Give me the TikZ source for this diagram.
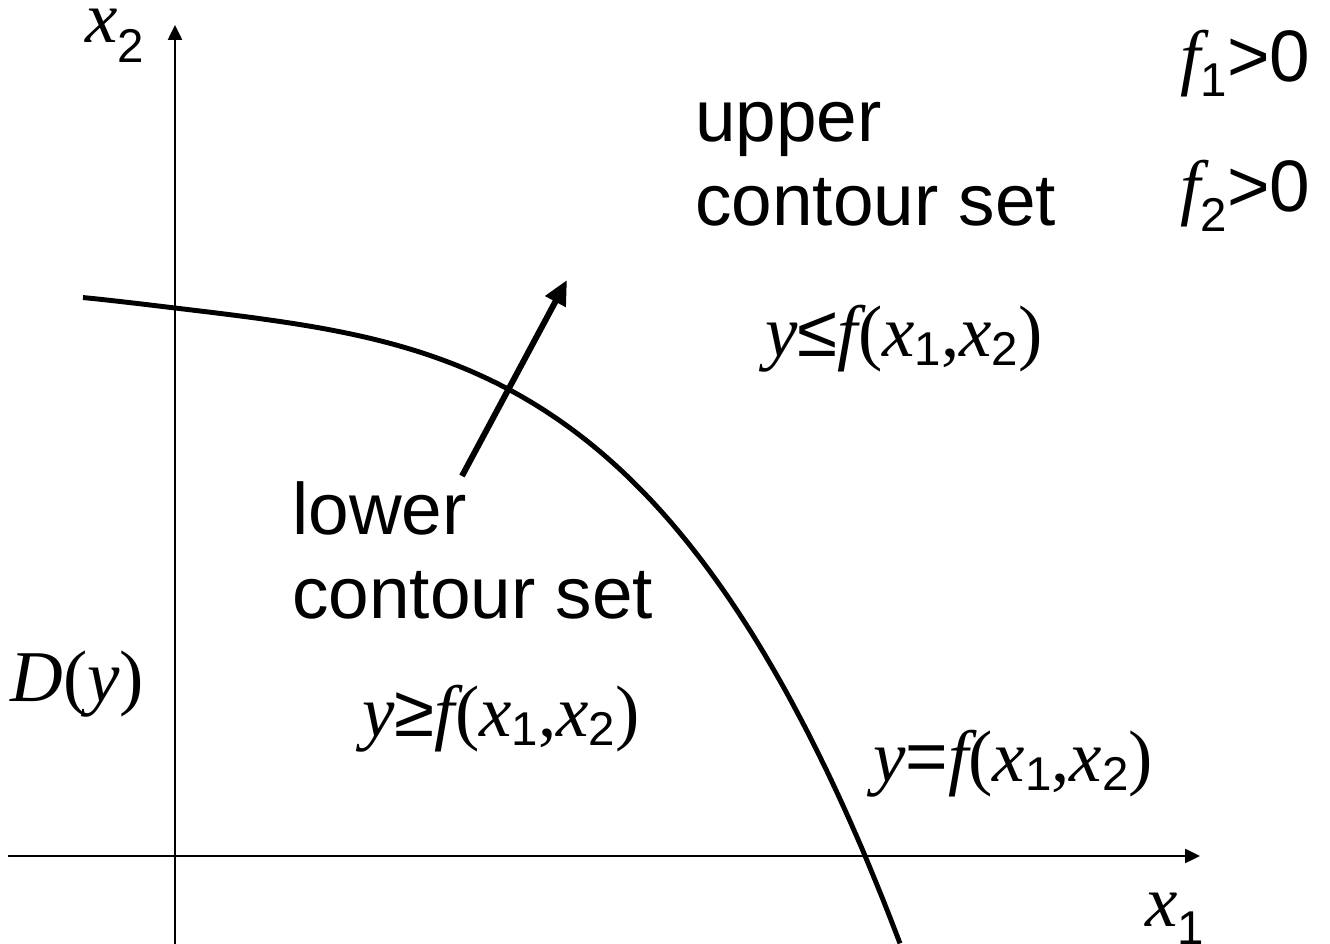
\documentclass[tikz,border=0pt]{standalone}
\usepackage{fontspec}
\setmainfont{Liberation Sans}
\newfontfamily\tmsfont{Liberation Serif}
\usetikzlibrary{arrows.meta}
% variables in Times italic, brackets in Times, indices in Arial
\newcommand{\vi}[1]{{\tmsfont\itshape #1}}
\newcommand{\vr}[1]{{\tmsfont #1}}
\newcommand{\sbs}[2][5pt]{\raisebox{-#1}{\fontsize{27}{30}\selectfont #2}}
\newcommand{\fxx}{\vi{f}\vr{(}\vi{x}\sbs{1}\vr{,}\vi{x}\sbs{2}\vr{)}}
\tikzset{
  lbl/.style={inner sep=0pt, anchor=base west, align=left,
    font=\fontsize{41.5}{48}\selectfont},
  axis/.style={line width=1.2pt, -{Triangle[length=8.5pt, width=8pt]}},
  isoq/.style={line width=2.8pt, line join=round},
  dirarrow/.style={line width=3.4pt, -{Triangle[length=14pt, width=12.5pt]}},
}
\begin{document}
\begin{tikzpicture}
  \useasboundingbox (0,0) rectangle (26.6,18.88);
  % axes
  \coordinate (o) at (3.5,1.76);
  \coordinate (x2s) at (3.5,0);
  \coordinate (x2e) at (3.5,18.38);
  \coordinate (x1s) at (0.16,1.76);
  \coordinate (x1e) at (24,1.76);
  \draw[axis] (x2s) -- (x2e);
  \draw[axis] (x1s) -- (x1e);
  \node[lbl] (x2lab) at (1.7,18.02) {\vi{x}\sbs[11pt]{2}};
  \node[lbl] (x1lab) at (22.9,0.34) {\vi{x}\sbs[10pt]{1}};
  % isoquant y = f(x1,x2)
  \draw[isoq, shift={(o)}] plot[domain=-1.84:14.5, samples=90, smooth]
    (\x, {10.96-0.12*\x-9.304*(abs(\x)/13.8)^3.33});
  % direction of increasing output
  \coordinate (arrs) at (9.24,9.36);
  \coordinate (arre) at (11.34,13.28);
  \draw[dirarrow] (arrs) -- (arre);
  % region labels
  \node[lbl] (upper) at (13.9,14.36) {upper\\contour set};
  \node[lbl] (lower) at (5.84,6.5) {lower\\contour set};
  \node[lbl] (ule) at (15.3,11.74) {\vi{y}≤\fxx};
  \node[lbl] (lge) at (7.24,4.14) {\vi{y}≥\fxx};
  \node[lbl] (leq) at (17.46,3.24) {\vi{y}=\fxx};
  \node[lbl] (dy) at (0.2,4.84) {\vi{D}\vr{(}\vi{y}\vr{)}};
  \node[lbl] (f1) at (23.6,17.24) {\vi{f}\sbs[8.5pt]{1}>0};
  \node[lbl] (f2) at (23.6,14.64) {\vi{f}\sbs[11pt]{2}>0};
\end{tikzpicture}
\end{document}
